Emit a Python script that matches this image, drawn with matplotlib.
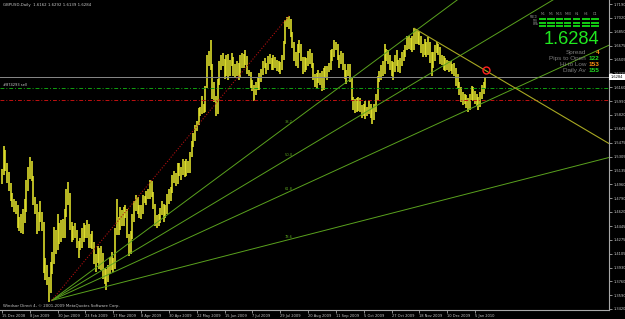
import matplotlib
matplotlib.use('Agg')
import matplotlib.pyplot as plt
from matplotlib.patches import Rectangle
from matplotlib.transforms import Affine2D
import numpy as np

# --- Canvas ---
W, H = 625, 319
DPI = 100

# --- Data (GBPUSD daily bars, one row per week) ---
bar_high = [
    1.5150, 1.5430, 1.5380, 1.5230, 1.5110,
    1.4980, 1.4860, 1.4780, 1.4760,
    1.4700, 1.4560, 1.4600, 1.4650,
    1.4780, 1.5020, 1.5180, 1.5300, 1.5250,
    1.5060, 1.4800, 1.4720, 1.4620, 1.4760,
    1.4620, 1.4490, 1.4050, 1.3960, 1.3820,
    1.4000, 1.4120, 1.4430, 1.4400, 1.4590,
    1.4480, 1.4520, 1.4530, 1.4650, 1.4900,
    1.4985, 1.4850, 1.4500, 1.4450, 1.4480,
    1.4400, 1.4260, 1.4300, 1.4420, 1.4480,
    1.4460, 1.4520, 1.4470, 1.4350, 1.4380,
    1.4250, 1.4100, 1.4200, 1.4180, 1.4200,
    1.4110, 1.3930, 1.3920, 1.3960, 1.4060,
    1.4120, 1.4050, 1.4420, 1.4780, 1.4560,
    1.4680, 1.4640, 1.4680, 1.4700, 1.4660,
    1.4350, 1.4380, 1.4600, 1.4760, 1.4830,
    1.4800, 1.4700, 1.4700, 1.4830, 1.4820,
    1.4880, 1.4900, 1.5020, 1.5000, 1.4870,
    1.4720, 1.4580, 1.4600, 1.4670, 1.4760,
    1.4720, 1.4700, 1.4840, 1.4900, 1.4930,
    1.5080, 1.5120, 1.5100, 1.5220, 1.5220,
    1.5180, 1.5270, 1.5250, 1.5270, 1.5250,
    1.5360, 1.5500, 1.5600, 1.5700, 1.5750,
    1.5900, 1.5920, 1.6050, 1.5960, 1.6180,
    1.6560, 1.6610, 1.6744, 1.6450, 1.6230,
    1.6050, 1.6260, 1.6480, 1.6560, 1.6580,
    1.6510, 1.6560, 1.6570, 1.6500, 1.6590,
    1.6540, 1.6450, 1.6480, 1.6460, 1.6560,
    1.6580, 1.6570, 1.6620, 1.6550, 1.6380,
    1.6350, 1.6250, 1.6190, 1.6230, 1.6290,
    1.6340, 1.6390, 1.6490, 1.6520, 1.6460,
    1.6550, 1.6570, 1.6520, 1.6560, 1.6540,
    1.6500, 1.6480, 1.6470, 1.6560, 1.6730,
    1.6990, 1.7030, 1.7043, 1.7000, 1.6850,
    1.6720, 1.6600, 1.6690, 1.6740, 1.6690,
    1.6530, 1.6530, 1.6520, 1.6610, 1.6630,
    1.6580, 1.6460, 1.6330, 1.6340, 1.6380,
    1.6340, 1.6360, 1.6400, 1.6420, 1.6420,
    1.6460, 1.6620, 1.6630, 1.6740, 1.6720,
    1.6700, 1.6560, 1.6610, 1.6590, 1.6450,
    1.6380, 1.6450, 1.6450, 1.6270, 1.6040,
    1.6010, 1.6030, 1.6040, 1.6030, 1.5940,
    1.5960, 1.5990, 1.5920, 1.5990, 1.5950,
    1.5900, 1.5960, 1.6080, 1.6300, 1.6360,
    1.6440, 1.6480, 1.6690, 1.6640, 1.6620,
    1.6560, 1.6480, 1.6470, 1.6560, 1.6620,
    1.6500, 1.6520, 1.6600, 1.6620, 1.6680,
    1.6800, 1.6790, 1.6770, 1.6800, 1.6890,
    1.6880, 1.6860, 1.6850, 1.6800, 1.6700,
    1.6760, 1.6720, 1.6780, 1.6720, 1.6600,
    1.6600, 1.6680, 1.6720, 1.6700, 1.6660,
    1.6560, 1.6550, 1.6520, 1.6500, 1.6480,
    1.6480, 1.6450, 1.6460, 1.6400, 1.6320,
    1.6220, 1.6160, 1.6100, 1.6080,
    1.6060, 1.6030, 1.6080, 1.6180,
    1.6160, 1.6120, 1.6080, 1.6040, 1.6100,
    1.6190, 1.6220, 1.6292,
]
bar_low = [
    1.4960, 1.5080, 1.5130, 1.4980, 1.4880,
    1.4760, 1.4680, 1.4620, 1.4600,
    1.4420, 1.4380, 1.4360, 1.4350,
    1.4480, 1.4620, 1.4880, 1.5030, 1.5000,
    1.4700, 1.4600, 1.4350, 1.4380, 1.4500,
    1.4380, 1.3860, 1.3780, 1.3720, 1.3503,
    1.3620, 1.3850, 1.3980, 1.4100, 1.4150,
    1.4220, 1.4250, 1.4300, 1.4300, 1.4560,
    1.4700, 1.4400, 1.4250, 1.4270, 1.4300,
    1.4180, 1.4050, 1.4150, 1.4180, 1.4250,
    1.4300, 1.4300, 1.4180, 1.4180, 1.4160,
    1.3980, 1.3880, 1.3990, 1.3920, 1.3900,
    1.3790, 1.3730, 1.3657, 1.3750, 1.3850,
    1.3900, 1.3880, 1.3920, 1.4330, 1.4330,
    1.4400, 1.4450, 1.4450, 1.4550, 1.4300,
    1.4070, 1.4100, 1.4280, 1.4500, 1.4630,
    1.4600, 1.4550, 1.4530, 1.4600, 1.4730,
    1.4700, 1.4780, 1.4780, 1.4800, 1.4650,
    1.4450, 1.4420, 1.4450, 1.4480, 1.4580,
    1.4500, 1.4550, 1.4600, 1.4720, 1.4760,
    1.4850, 1.4980, 1.4940, 1.4970, 1.5060,
    1.5020, 1.5080, 1.5050, 1.5060, 1.5100,
    1.5100, 1.5300, 1.5420, 1.5500, 1.5620,
    1.5700, 1.5800, 1.5830, 1.5840, 1.5860,
    1.6150, 1.6420, 1.6380, 1.6020, 1.5980,
    1.5802, 1.5830, 1.6190, 1.6380, 1.6420,
    1.6260, 1.6300, 1.6250, 1.6300, 1.6420,
    1.6300, 1.6280, 1.6300, 1.6250, 1.6280,
    1.6400, 1.6400, 1.6430, 1.6320, 1.6300,
    1.6150, 1.6120, 1.5990, 1.6060, 1.6130,
    1.6130, 1.6230, 1.6310, 1.6400, 1.6320,
    1.6380, 1.6450, 1.6370, 1.6380, 1.6400,
    1.6360, 1.6350, 1.6330, 1.6380, 1.6500,
    1.6700, 1.6900, 1.6880, 1.6780, 1.6650,
    1.6480, 1.6420, 1.6400, 1.6580, 1.6480,
    1.6330, 1.6350, 1.6370, 1.6420, 1.6450,
    1.6400, 1.6250, 1.6170, 1.6150, 1.6210,
    1.6190, 1.6120, 1.6130, 1.6280, 1.6250,
    1.6350, 1.6380, 1.6480, 1.6530, 1.6620,
    1.6500, 1.6400, 1.6450, 1.6380, 1.6260,
    1.6200, 1.6300, 1.6220, 1.5990, 1.5880,
    1.5840, 1.5860, 1.5870, 1.5850, 1.5780,
    1.5800, 1.5770, 1.5800, 1.5830, 1.5780,
    1.5707, 1.5760, 1.5850, 1.6000, 1.6220,
    1.6250, 1.6300, 1.6320, 1.6480, 1.6450,
    1.6380, 1.6300, 1.6250, 1.6350, 1.6420,
    1.6350, 1.6340, 1.6420, 1.6480, 1.6530,
    1.6620, 1.6640, 1.6620, 1.6600, 1.6620,
    1.6700, 1.6700, 1.6680, 1.6580, 1.6540,
    1.6560, 1.6540, 1.6560, 1.6460, 1.6300,
    1.6400, 1.6480, 1.6580, 1.6560, 1.6450,
    1.6440, 1.6380, 1.6360, 1.6380, 1.6350,
    1.6360, 1.6320, 1.6300, 1.6180, 1.6140,
    1.6060, 1.5980, 1.5940, 1.5960,
    1.5900, 1.5850, 1.5880, 1.6000,
    1.5990, 1.5960, 1.5930, 1.5880, 1.5920,
    1.6020, 1.6080, 1.6139,
]

date_labels = ['15 Dec 2008', '8 Jan 2009', '30 Jan 2009', '23 Feb 2009',
               '17 Mar 2009', '8 Apr 2009', '30 Apr 2009', '22 May 2009',
               '15 Jun 2009', '7 Jul 2009', '29 Jul 2009', '20 Aug 2009',
               '11 Sep 2009', '5 Oct 2009', '27 Oct 2009', '18 Nov 2009',
               '10 Dec 2009', '5 Jan 2010']
BARS_PER_LABEL = 16

price_ticks = [1.7190, 1.7020, 1.6850, 1.6675, 1.6505, 1.6335, 1.6160,
               1.5990, 1.5820, 1.5645, 1.5475, 1.5305, 1.5135, 1.4960,
               1.4790, 1.4620, 1.4445, 1.4275, 1.4105, 1.3930, 1.3760,
               1.3590, 1.3420]

# Fibonacci fan: anchor points (bar index, price) and levels
fan_p1 = (28.5, 1.3525)
fan_p2 = (165, 1.7043)
fan_levels = [0.382, 0.500, 0.618, 0.786]
fan_level_labels = ['38.2', '50.0', '61.8', '78.6']

# descending trend line from the November top
trend_p1 = (237, 1.6890)
trend_p2 = (297, 1.6127)

bid_price = 1.6284
order_price = 1.6152
stop_price = 1.6003
alert_point = (278.5, 1.6374)

ohlc_title = 'GBPUSD,Daily  1.6162 1.6292 1.6139 1.6284'
order_label = '#874293 sell'
copyright_text = 'Windsor Direct 4, \u00a9 2001-2009 MetaQuotes Software Corp.'

# info panel (top right)
panel_price = '1.6284'
panel_rows = ['Spread', 'Pips to Open', 'Hi to Low', 'Daily Av']
panel_values = ['4', '122', '153', '155']
panel_value_colors = ['#ff9010', '#22dd22', '#ff9010', '#22dd22']
panel_timeframes = ['M1', 'M5', 'M15', 'M30', 'H1', 'H4', 'D1']
panel_indicators = ['MACD', 'STR', 'EMA']

# --- Styling ---
BAR_COLOR   = '#e4e42c'
FAN_COLOR   = '#5aa21e'
TREND_COLOR = '#a8a822'
AXIS_COLOR  = '#a8a8a8'
TEXT_COLOR  = '#c8c8c8'
XMIN, XMAX  = -1.15, 349.05
YMIN, YMAX  = 1.34076, 1.72396

fig = plt.figure(figsize=(W / DPI, H / DPI), dpi=DPI, facecolor='black')
ax = fig.add_axes([0, 1 - 310 / H, 609 / W, 310 / H], facecolor='black')
# pixel coords, origin top-left, for the overlay widgets
px = Affine2D().scale(1 / W, -1 / H).translate(0, 1) + fig.transFigure

# price bars
idx = np.arange(len(bar_high))
ax.vlines(idx, bar_low, bar_high, color=BAR_COLOR, lw=1.15)

# horizontal lines
ax.axhline(bid_price, color='#8a8a8a', lw=0.7)
ax.axhline(order_price, color='#10a010', lw=0.7, ls=(0, (4, 2, 1, 2)))
ax.axhline(stop_price, color='#c01010', lw=0.7, ls=(0, (4, 2, 1, 2)))

# fibonacci fan
i1, p1 = fan_p1
i2, p2 = fan_p2
for lvl, lab in zip(fan_levels, fan_level_labels):
    pt = p2 - lvl * (p2 - p1)
    slope = (pt - p1) / (i2 - i1)
    ax.plot([i1, XMAX], [p1, p1 + slope * (XMAX - i1)], color=FAN_COLOR, lw=0.7)
    ax.text(i2 - 2.5, pt + 0.0012, lab, color=FAN_COLOR, fontsize=2.6,
            ha='left', va='bottom')
ax.plot([i1, i2], [p1, p2], color='#b01010', lw=0.8, ls=(0, (1, 1.5)))

# trend line (ray to the right)
ta, pa = trend_p1
tb, pb = trend_p2
t_slope = (pb - pa) / (tb - ta)
ax.plot([ta, XMAX], [pa, pa + t_slope * (XMAX - ta)], color=TREND_COLOR, lw=0.8)

# alert marker
ax.plot(*alert_point, marker='o', ms=5, mfc='none', mec='#ff2020', mew=1.0)

ax.set_xlim(XMIN, XMAX)
ax.set_ylim(YMIN, YMAX)

# axes / ticks
for side in ['left', 'top']:
    ax.spines[side].set_visible(False)
for side in ['right', 'bottom']:
    ax.spines[side].set_color(AXIS_COLOR)
    ax.spines[side].set_linewidth(0.8)

ax.yaxis.tick_right()
ax.set_yticks(price_ticks)
ax.set_yticklabels(['%.4f' % p for p in price_ticks])
ax.set_xticks([k * BARS_PER_LABEL for k in range(len(date_labels))])
ax.set_xticklabels(date_labels, ha='left')
ax.tick_params(axis='y', colors=AXIS_COLOR, labelcolor=TEXT_COLOR,
               labelsize=2.6, length=2, width=0.6, pad=1)
ax.tick_params(axis='x', colors=AXIS_COLOR, labelcolor=TEXT_COLOR,
               labelsize=2.6, length=2, width=0.6, pad=1)

# current price box on the scale
fig.add_artist(Rectangle((609, 73.8), 16, 6.6, transform=px,
                         facecolor='white', edgecolor='none'))
fig.text(610.5, 77.2, '%.4f' % bid_price, transform=px, color='black',
         fontsize=2.6, va='center', ha='left')

# chart texts
fig.text(3, 5, ohlc_title, transform=px, color=TEXT_COLOR, fontsize=2.8,
         va='center', ha='left')
fig.text(3, 86.5, order_label, transform=px, color=TEXT_COLOR, fontsize=2.6,
         va='bottom', ha='left')
fig.text(3, 305.5, copyright_text, transform=px, color=TEXT_COLOR,
         fontsize=2.8, va='center', ha='left')

# info panel
col_x = [542.7, 551, 559.3, 567.7, 576.7, 586, 595]
row_y = [19.3, 22.7, 26.1]
for cx, tf in zip(col_x, panel_timeframes):
    fig.text(cx, 14, tf, transform=px, color='#909090', fontsize=2.3,
             ha='center', va='center')
for ry, name in zip(row_y, panel_indicators):
    fig.text(538, ry - 2.2, name, transform=px, color='#909090', fontsize=1.9,
             ha='right', va='center')
    for cx in col_x:
        fig.add_artist(Rectangle((cx - 3.6, ry - 1.1), 7.2, 2.3, transform=px,
                                 facecolor='#12c812', edgecolor='none'))

fig.text(599, 44.2, panel_price, transform=px, color='#20e820', fontsize=13.2,
         family='Liberation Sans', ha='right', va='baseline')
row_base = [54.0, 60.0, 66.0, 72.0]
for yb, name, val, vc in zip(row_base, panel_rows, panel_values,
                             panel_value_colors):
    fig.text(586, yb, name, transform=px, color='#7c7c7c', fontsize=4.6,
             family='Liberation Sans', ha='right', va='baseline')
    fig.text(599, yb, val, transform=px, color=vc, fontsize=4.6,
             family='Liberation Sans', fontweight='bold', ha='right',
             va='baseline')

fig.savefig('out.png', dpi=DPI, facecolor='black')
plt.close('all')
